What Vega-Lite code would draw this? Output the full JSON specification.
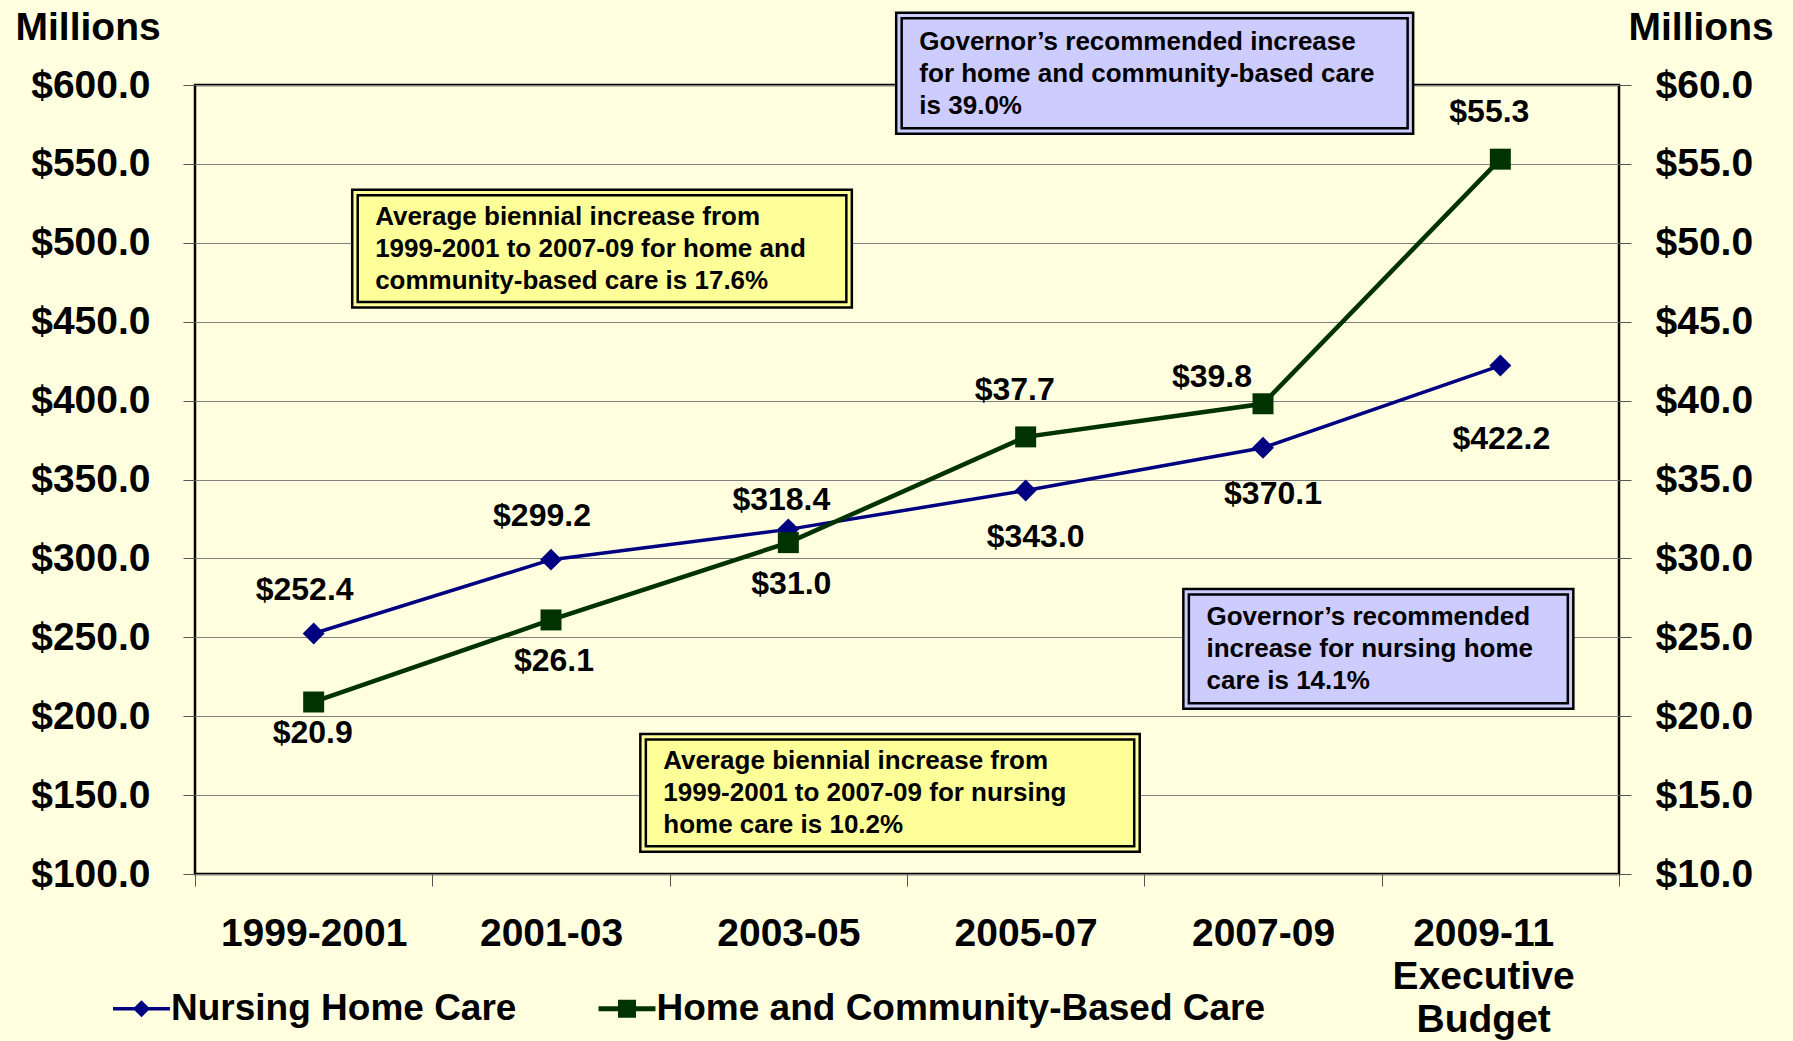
{
  "$schema": "https://vega.github.io/schema/vega-lite/v6.json",
  "width": 1424,
  "height": 789,
  "autosize": {"type": "none"},
  "padding": {"left": 195, "top": 85, "right": 174, "bottom": 167},
  "background": "#FFFFE0",
  "config": {
    "view": {"stroke": "#000000", "strokeWidth": 2.5},
    "font": "Liberation Sans",
    "axis": {
      "labelFont": "Liberation Sans", "labelFontWeight": "bold", "labelColor": "#000000", "labelFontSize": 39, "labelLimit": 1000,
      "titleFont": "Liberation Sans", "titleFontWeight": "bold", "titleColor": "#000000", "titleFontSize": 39,
      "tickColor": "#555555", "tickWidth": 1, "tickSize": 12, "domain": false
    },
    "legend": {
      "orient": "none", "legendX": -72, "legendY": 905, "direction": "horizontal",
      "labelFontSize": 37, "labelFont": "Liberation Sans", "labelFontWeight": "bold",
      "labelColor": "#000000", "labelLimit": 1000, "symbolSize": 289, "labelOffset": 11,
      "columnPadding": 81.5, "padding": 0, "symbolStrokeWidth": 0, "symbolOpacity": 1
    },
    "text": {"font": "Liberation Sans", "fontWeight": "bold", "color": "#000000"}
  },
  "datasets": {
    "boxes": [
      {"kind": "governor", "x1": 2.466, "x2": 4.621, "y1": 644.1, "y2": 570.8},
      {"kind": "average", "x1": 0.174, "x2": 2.256, "y1": 531.8, "y2": 460.7},
      {"kind": "average", "x1": 1.388, "x2": 3.469, "y1": 186.9, "y2": 115.8},
      {"kind": "governor", "x1": 3.676, "x2": 5.296, "y1": 278.9, "y2": 206.5}
    ],
    "notes": [
      {"tx": 2.552, "ty": 627.1, "text": ["Governor’s recommended increase", "for home and community-based care", "is 39.0%"]},
      {"tx": 0.259, "ty": 516.2, "text": ["Average biennial increase from", "1999-2001 to 2007-09 for home and", "community-based care is 17.6%"]},
      {"tx": 1.473, "ty": 171.3, "text": ["Average biennial increase from", "1999-2001 to 2007-09 for nursing", "home care is 10.2%"]},
      {"tx": 3.762, "ty": 262.6, "text": ["Governor’s recommended", "increase for nursing home", "care is 14.1%"]}
    ]
  },
  "data": {
    "values": [
      {"period": "1999-2001", "idx": 0, "series": "Nursing Home Care", "value": 252.4},
      {"period": "2001-03", "idx": 1, "series": "Nursing Home Care", "value": 299.2},
      {"period": "2003-05", "idx": 2, "series": "Nursing Home Care", "value": 318.4},
      {"period": "2005-07", "idx": 3, "series": "Nursing Home Care", "value": 343.0},
      {"period": "2007-09", "idx": 4, "series": "Nursing Home Care", "value": 370.1},
      {"period": "2009-11", "idx": 5, "series": "Nursing Home Care", "value": 422.2},
      {"period": "1999-2001", "idx": 0, "series": "Home and Community-Based Care", "value": 20.9},
      {"period": "2001-03", "idx": 1, "series": "Home and Community-Based Care", "value": 26.1},
      {"period": "2003-05", "idx": 2, "series": "Home and Community-Based Care", "value": 31.0},
      {"period": "2005-07", "idx": 3, "series": "Home and Community-Based Care", "value": 37.7},
      {"period": "2007-09", "idx": 4, "series": "Home and Community-Based Care", "value": 39.8},
      {"period": "2009-11", "idx": 5, "series": "Home and Community-Based Care", "value": 55.3}
    ]
  },
  "layer": [
    {
      "layer": [
        {
          "data": {"name": "boxes"},
          "mark": {"type": "rect", "stroke": "#000000", "strokeWidth": 8},
          "encoding": {
            "x": {
              "field": "x1", "type": "quantitative",
              "scale": {"domain": [-0.5, 5.5], "nice": false, "zero": false},
              "axis": {
                "title": null,
                "values": [-0.5, 0.5, 1.5, 2.5, 3.5, 4.5, 5.5],
                "labelExpr": "datum.value < 0 ? '1999-2001' : datum.value < 1 ? '2001-03' : datum.value < 2 ? '2003-05' : datum.value < 3 ? '2005-07' : datum.value < 4 ? '2007-09' : datum.value < 5 ? ['2009-11', 'Executive', 'Budget'] : ''",
                "labelOffset": {"condition": {"test": "datum.value > 4", "value": 101.5}, "value": 118.67},
                "labelPadding": 28,
                "labelLineHeight": 43,
                "labelFlush": false,
                "labelOverlap": false,
                "grid": false
              }
            },
            "x2": {"field": "x2"},
            "y": {
              "field": "y1", "type": "quantitative",
              "scale": {"domain": [100, 600], "nice": false, "zero": false},
              "axis": {
                "title": "Millions",
                "titleAngle": 0, "titleAlign": "left", "titleBaseline": "alphabetic",
                "titleX": -180, "titleY": -46,
                "values": [100, 150, 200, 250, 300, 350, 400, 450, 500, 550, 600],
                "format": "$.1f",
                "labelPadding": 33,
                "grid": true, "gridColor": "#808080", "gridWidth": 1
              }
            },
            "y2": {"field": "y2"},
            "fill": {"field": "kind", "type": "nominal", "scale": {"domain": ["governor", "average"], "range": ["#CCCCFF", "#FFFF99"]}, "legend": null}
          }
        },
        {
          "data": {"name": "boxes"},
          "mark": {"type": "rect", "filled": false, "strokeWidth": 3},
          "encoding": {
            "x": {"field": "x1", "type": "quantitative"},
            "x2": {"field": "x2"},
            "y": {"field": "y1", "type": "quantitative"},
            "y2": {"field": "y2"},
            "stroke": {"field": "kind", "type": "nominal", "scale": {"domain": ["governor", "average"], "range": ["#CCCCFF", "#FFFF99"]}, "legend": null}
          }
        },
        {
          "data": {"name": "notes"},
          "mark": {"type": "text", "align": "left", "baseline": "middle", "fontSize": 26, "lineHeight": 32},
          "encoding": {
            "x": {"field": "tx", "type": "quantitative"},
            "y": {"field": "ty", "type": "quantitative"},
            "text": {"field": "text"}
          }
        },
        {
          "transform": [{"filter": "datum.series == 'Nursing Home Care'"}],
          "mark": {"type": "line", "strokeWidth": 3.5},
          "encoding": {
            "x": {"field": "idx", "type": "quantitative"},
            "y": {"field": "value", "type": "quantitative"},
            "color": {
              "field": "series", "type": "nominal",
              "scale": {"domain": ["Nursing Home Care", "Home and Community-Based Care"], "range": ["#000080", "#003300"]}
            }
          }
        },
        {
          "transform": [{"filter": "datum.series == 'Nursing Home Care'"}],
          "mark": {"type": "point", "shape": "diamond", "filled": true, "size": 480, "color": "#000080", "opacity": 1},
          "encoding": {
            "x": {"field": "idx", "type": "quantitative"},
            "y": {"field": "value", "type": "quantitative"}
          }
        },
        {
          "transform": [{"filter": "false"}],
          "mark": {"type": "point", "filled": true, "strokeWidth": 0},
          "encoding": {
            "color": {"field": "series", "type": "nominal", "legend": {"title": null}},
            "shape": {
              "field": "series", "type": "nominal",
              "scale": {
                "domain": ["Nursing Home Care", "Home and Community-Based Care"],
                "range": [
                  "M-3.35,-0.2L-0.8,-0.2L0,-1L0.8,-0.2L3.35,-0.2L3.35,0.2L0.8,0.2L0,1L-0.8,0.2L-3.35,0.2Z",
                  "M-3.35,-0.3L-1.06,-0.3L-1.06,-1.06L1.06,-1.06L1.06,-0.3L3.35,-0.3L3.35,0.3L1.06,0.3L1.06,1.06L-1.06,1.06L-1.06,0.3L-3.35,0.3Z"
                ]
              },
              "legend": {"title": null}
            }
          }
        },
        {
          "transform": [{"filter": "datum.series == 'Nursing Home Care' && datum.idx <= 1"}],
          "mark": {"type": "text", "fontSize": 32, "baseline": "middle", "dx": -9, "dy": -44},
          "encoding": {
            "x": {"field": "idx", "type": "quantitative"},
            "y": {"field": "value", "type": "quantitative"},
            "text": {"field": "value", "type": "quantitative", "format": "$.1f"}
          }
        },
        {
          "transform": [{"filter": "datum.series == 'Nursing Home Care' && datum.idx == 2"}],
          "mark": {"type": "text", "fontSize": 32, "baseline": "middle", "dx": -7, "dy": -29},
          "encoding": {
            "x": {"field": "idx", "type": "quantitative"},
            "y": {"field": "value", "type": "quantitative"},
            "text": {"field": "value", "type": "quantitative", "format": "$.1f"}
          }
        },
        {
          "transform": [{"filter": "datum.series == 'Nursing Home Care' && (datum.idx == 3 || datum.idx == 4)"}],
          "mark": {"type": "text", "fontSize": 32, "baseline": "middle", "dx": 10, "dy": 46},
          "encoding": {
            "x": {"field": "idx", "type": "quantitative"},
            "y": {"field": "value", "type": "quantitative"},
            "text": {"field": "value", "type": "quantitative", "format": "$.1f"}
          }
        },
        {
          "transform": [{"filter": "datum.series == 'Nursing Home Care' && datum.idx == 5"}],
          "mark": {"type": "text", "fontSize": 32, "baseline": "middle", "dx": 1, "dy": 73},
          "encoding": {
            "x": {"field": "idx", "type": "quantitative"},
            "y": {"field": "value", "type": "quantitative"},
            "text": {"field": "value", "type": "quantitative", "format": "$.1f"}
          }
        }
      ]
    },
    {
      "layer": [
        {
          "transform": [{"filter": "datum.series == 'Home and Community-Based Care'"}],
          "mark": {"type": "line", "strokeWidth": 4.5},
          "encoding": {
            "x": {"field": "idx", "type": "quantitative"},
            "y": {
              "field": "value", "type": "quantitative",
              "scale": {"domain": [10, 60], "nice": false, "zero": false},
              "axis": {
                "orient": "right",
                "title": "Millions",
                "titleAngle": 0, "titleAlign": "left", "titleBaseline": "alphabetic",
                "titleX": 9, "titleY": -46,
                "values": [10, 15, 20, 25, 30, 35, 40, 45, 50, 55, 60],
                "format": "$.1f",
                "labelPadding": 24,
                "grid": false
              }
            },
            "color": {"field": "series", "type": "nominal"}
          }
        },
        {
          "transform": [{"filter": "datum.series == 'Home and Community-Based Care'"}],
          "mark": {"type": "point", "shape": "square", "filled": true, "size": 440, "color": "#003300", "opacity": 1},
          "encoding": {
            "x": {"field": "idx", "type": "quantitative"},
            "y": {"field": "value", "type": "quantitative"}
          }
        },
        {
          "transform": [{"filter": "datum.series == 'Home and Community-Based Care' && datum.idx == 0"}],
          "mark": {"type": "text", "fontSize": 32, "baseline": "middle", "dx": -1, "dy": 31},
          "encoding": {
            "x": {"field": "idx", "type": "quantitative"},
            "y": {"field": "value", "type": "quantitative"},
            "text": {"field": "value", "type": "quantitative", "format": "$.1f"}
          }
        },
        {
          "transform": [{"filter": "datum.series == 'Home and Community-Based Care' && (datum.idx == 1 || datum.idx == 2)"}],
          "mark": {"type": "text", "fontSize": 32, "baseline": "middle", "dx": 3, "dy": 41},
          "encoding": {
            "x": {"field": "idx", "type": "quantitative"},
            "y": {"field": "value", "type": "quantitative"},
            "text": {"field": "value", "type": "quantitative", "format": "$.1f"}
          }
        },
        {
          "transform": [{"filter": "datum.series == 'Home and Community-Based Care' && (datum.idx == 3 || datum.idx == 5)"}],
          "mark": {"type": "text", "fontSize": 32, "baseline": "middle", "dx": -11, "dy": -47},
          "encoding": {
            "x": {"field": "idx", "type": "quantitative"},
            "y": {"field": "value", "type": "quantitative"},
            "text": {"field": "value", "type": "quantitative", "format": "$.1f"}
          }
        },
        {
          "transform": [{"filter": "datum.series == 'Home and Community-Based Care' && datum.idx == 4"}],
          "mark": {"type": "text", "fontSize": 32, "baseline": "middle", "dx": -51, "dy": -27},
          "encoding": {
            "x": {"field": "idx", "type": "quantitative"},
            "y": {"field": "value", "type": "quantitative"},
            "text": {"field": "value", "type": "quantitative", "format": "$.1f"}
          }
        }
      ]
    }
  ],
  "resolve": {"scale": {"y": "independent"}}
}
